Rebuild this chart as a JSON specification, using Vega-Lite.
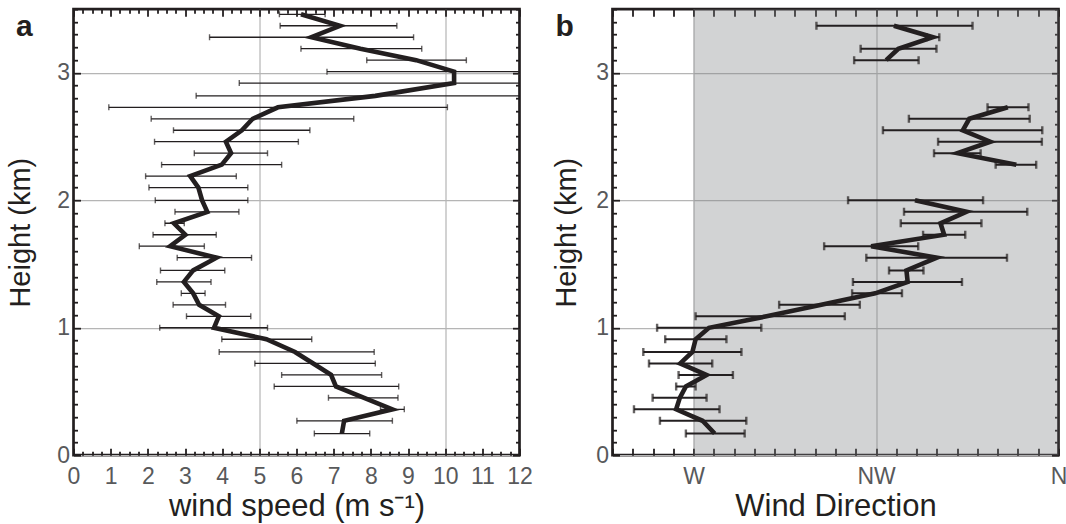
{
  "$schema": "https://vega.github.io/schema/vega-lite/v6.json",
  "padding": {"left": 4.5, "top": 3.2, "right": 0, "bottom": 0},
  "autosize": {"type": "pad"},
  "background": "white",
  "spacing": 16,
  "config": {
    "font": "Liberation Sans",
    "view": {"stroke": "#231f20", "strokeWidth": 2.7},
    "axis": {
      "domain": false,
      "labelFont": "Liberation Sans",
      "titleFont": "Liberation Sans",
      "labelFontSize": 23,
      "labelColor": "#58595b",
      "titleFontSize": 29,
      "titleFontWeight": "normal",
      "titleColor": "#231f20",
      "tickColor": "#231f20",
      "tickWidth": 1.8,
      "gridColor": "#b5b5b5",
      "gridWidth": 1.2,
      "labelFlush": false,
      "labelOverlap": false,
      "labelBound": false
    }
  },
  "datasets": {
    "speed": [
      {"h": 0.17, "v": 7.22, "lo": 6.48, "hi": 7.97},
      {"h": 0.27, "v": 7.28, "lo": 6.01, "hi": 8.58},
      {"h": 0.36, "v": 8.58, "lo": 8.26, "hi": 8.90},
      {"h": 0.45, "v": 7.82, "lo": 6.86, "hi": 8.73},
      {"h": 0.54, "v": 7.06, "lo": 5.40, "hi": 8.75},
      {"h": 0.63, "v": 6.93, "lo": 5.60, "hi": 8.29},
      {"h": 0.72, "v": 6.45, "lo": 4.88, "hi": 8.12},
      {"h": 0.81, "v": 5.96, "lo": 3.92, "hi": 8.09},
      {"h": 0.91, "v": 5.19, "lo": 3.99, "hi": 6.41},
      {"h": 1.00, "v": 3.78, "lo": 2.32, "hi": 5.22},
      {"h": 1.09, "v": 3.91, "lo": 3.04, "hi": 4.77},
      {"h": 1.18, "v": 3.38, "lo": 2.68, "hi": 4.09},
      {"h": 1.27, "v": 3.22, "lo": 2.90, "hi": 3.54},
      {"h": 1.36, "v": 2.97, "lo": 2.24, "hi": 3.70},
      {"h": 1.45, "v": 3.22, "lo": 2.34, "hi": 4.07},
      {"h": 1.55, "v": 3.85, "lo": 2.79, "hi": 4.79},
      {"h": 1.64, "v": 2.60, "lo": 1.77, "hi": 3.52},
      {"h": 1.73, "v": 3.01, "lo": 2.14, "hi": 3.84},
      {"h": 1.82, "v": 2.70, "lo": 2.46, "hi": 2.98},
      {"h": 1.91, "v": 3.60, "lo": 2.73, "hi": 4.45},
      {"h": 2.00, "v": 3.46, "lo": 2.20, "hi": 4.69},
      {"h": 2.10, "v": 3.36, "lo": 2.03, "hi": 4.69},
      {"h": 2.19, "v": 3.14, "lo": 1.94, "hi": 4.38},
      {"h": 2.28, "v": 3.99, "lo": 2.37, "hi": 5.60},
      {"h": 2.37, "v": 4.24, "lo": 3.25, "hi": 5.22},
      {"h": 2.46, "v": 4.10, "lo": 2.18, "hi": 6.05},
      {"h": 2.55, "v": 4.53, "lo": 2.69, "hi": 6.36},
      {"h": 2.64, "v": 4.82, "lo": 2.09, "hi": 7.54},
      {"h": 2.73, "v": 5.50, "lo": 0.95, "hi": 10.06},
      {"h": 2.82, "v": 8.12, "lo": 3.30, "hi": 12.95},
      {"h": 2.92, "v": 10.24, "lo": 4.46, "hi": 16.0},
      {"h": 3.01, "v": 10.24, "lo": 6.82, "hi": 13.66},
      {"h": 3.10, "v": 9.22, "lo": 7.89, "hi": 10.57},
      {"h": 3.19, "v": 7.72, "lo": 6.12, "hi": 9.37},
      {"h": 3.28, "v": 6.40, "lo": 3.66, "hi": 9.15},
      {"h": 3.37, "v": 7.17, "lo": 5.56, "hi": 8.70},
      {"h": 3.46, "v": 6.12, "lo": 5.54, "hi": 6.77}
    ],
    "direction": [
      {"seg": 1, "h": 0.17, "d": 275.2, "lo": 268.1, "hi": 282.6},
      {"seg": 1, "h": 0.27, "d": 272.2, "lo": 261.7, "hi": 283.0},
      {"seg": 1, "h": 0.36, "d": 265.7, "lo": 255.3, "hi": 276.4},
      {"seg": 1, "h": 0.45, "d": 266.6, "lo": 259.9, "hi": 273.2},
      {"seg": 1, "h": 0.54, "d": 268.1, "lo": 265.7, "hi": 270.5},
      {"seg": 1, "h": 0.63, "d": 273.2, "lo": 266.3, "hi": 279.7},
      {"seg": 1, "h": 0.72, "d": 266.7, "lo": 259.0, "hi": 274.6},
      {"seg": 1, "h": 0.81, "d": 269.7, "lo": 257.6, "hi": 281.8},
      {"seg": 1, "h": 0.91, "d": 270.5, "lo": 263.0, "hi": 278.1},
      {"seg": 1, "h": 1.00, "d": 273.8, "lo": 261.0, "hi": 286.7},
      {"seg": 1, "h": 1.09, "d": 288.0, "lo": 270.5, "hi": 307.3},
      {"seg": 1, "h": 1.18, "d": 301.5, "lo": 291.1, "hi": 311.0},
      {"seg": 1, "h": 1.27, "d": 314.8, "lo": 309.1, "hi": 321.4},
      {"seg": 1, "h": 1.36, "d": 322.8, "lo": 309.3, "hi": 336.2},
      {"seg": 1, "h": 1.45, "d": 322.5, "lo": 318.2, "hi": 326.7},
      {"seg": 1, "h": 1.55, "d": 330.0, "lo": 312.6, "hi": 347.3},
      {"seg": 1, "h": 1.64, "d": 313.8, "lo": 302.2, "hi": 325.4},
      {"seg": 1, "h": 1.73, "d": 331.8, "lo": 326.6, "hi": 337.0},
      {"seg": 1, "h": 1.82, "d": 330.9, "lo": 321.1, "hi": 341.0},
      {"seg": 1, "h": 1.91, "d": 337.3, "lo": 321.9, "hi": 352.3},
      {"seg": 1, "h": 2.00, "d": 324.6, "lo": 308.1, "hi": 341.4},
      {"seg": 2, "h": 2.28, "d": 349.6, "lo": 344.5, "hi": 354.5},
      {"seg": 2, "h": 2.37, "d": 335.1, "lo": 329.3, "hi": 340.8},
      {"seg": 2, "h": 2.46, "d": 343.2, "lo": 330.3, "hi": 355.9},
      {"seg": 2, "h": 2.55, "d": 336.4, "lo": 316.7, "hi": 356.0},
      {"seg": 2, "h": 2.64, "d": 338.0, "lo": 323.1, "hi": 352.9},
      {"seg": 2, "h": 2.73, "d": 347.5, "lo": 342.5, "hi": 352.6},
      {"seg": 3, "h": 3.10, "d": 317.5, "lo": 309.6, "hi": 325.5},
      {"seg": 3, "h": 3.19, "d": 320.5, "lo": 311.2, "hi": 329.9},
      {"seg": 3, "h": 3.28, "d": 329.0, "lo": 327.5, "hi": 330.6},
      {"seg": 3, "h": 3.37, "d": 319.4, "lo": 300.3, "hi": 338.8}
    ]
  },
  "hconcat": [
    {
      "width": 446,
      "height": 446,
      "data": {"name": "speed"},
      "resolve": {"axis": {"x": "independent", "y": "independent"}},
      "layer": [
        {
          "mark": {"type": "rule", "clip": true, "strokeWidth": 1.3, "color": "#231f20"},
          "encoding": {
            "x": {"field": "lo", "type": "quantitative", "scale": {"domain": [0, 12], "nice": false, "zero": false},
              "axis": {"orient": "bottom",
                "values": [0,0.25,0.5,0.75,1,1.25,1.5,1.75,2,2.25,2.5,2.75,3,3.25,3.5,3.75,4,4.25,4.5,4.75,5,5.25,5.5,5.75,6,6.25,6.5,6.75,7,7.25,7.5,7.75,8,8.25,8.5,8.75,9,9.25,9.5,9.75,10,10.25,10.5,10.75,11,11.25,11.5,11.75,12],
                "tickSize": {"condition": {"test": "datum.value % 1 === 0", "value": -7}, "value": -4},
                "labelExpr": "datum.value % 1 === 0 ? format(datum.value, 'd') : ''",
                "labelFontSize": {"condition": {"test": "datum.value % 1 === 0", "value": 23}, "value": 1},
                "labelPadding": 17,
                "grid": true,
                "gridOpacity": {"condition": {"test": "datum.value === 5 || datum.value === 10", "value": 1}, "value": 0},
                "title": "wind speed (m s⁻¹)",
                "titleFontSize": 31,
                "titlePadding": 3}},
            "x2": {"field": "hi"},
            "y": {"field": "h", "type": "quantitative", "scale": {"domain": [0, 3.5], "nice": false, "zero": false},
              "axis": {"orient": "left",
                "values": [0,0.1,0.2,0.3,0.4,0.5,0.6,0.7,0.8,0.9,1,1.1,1.2,1.3,1.4,1.5,1.6,1.7,1.8,1.9,2,2.1,2.2,2.3,2.4,2.5,2.6,2.7,2.8,2.9,3,3.1,3.2,3.3,3.4,3.5],
                "tickSize": {"condition": {"test": "datum.value % 1 === 0", "value": -7}, "value": -4},
                "labelExpr": "datum.value % 1 === 0 ? format(datum.value, 'd') : ''",
                "labelFontSize": {"condition": {"test": "datum.value % 1 === 0", "value": 23}, "value": 1},
                "labelPadding": 11,
                "grid": true,
                "gridOpacity": {"condition": {"test": "datum.value % 1 === 0", "value": 1}, "value": 0},
                "title": "Height (km)",
                "titlePadding": 21}}
          }
        },
        {
          "mark": {"type": "tick", "orient": "vertical", "clip": true, "size": 6, "thickness": 1.4, "color": "#231f20"},
          "encoding": {
            "x": {"field": "lo", "type": "quantitative", "scale": {"domain": [0, 12], "nice": false, "zero": false},
              "axis": {"orient": "top",
                "values": [0,0.25,0.5,0.75,1,1.25,1.5,1.75,2,2.25,2.5,2.75,3,3.25,3.5,3.75,4,4.25,4.5,4.75,5,5.25,5.5,5.75,6,6.25,6.5,6.75,7,7.25,7.5,7.75,8,8.25,8.5,8.75,9,9.25,9.5,9.75,10,10.25,10.5,10.75,11,11.25,11.5,11.75,12],
                "tickSize": {"condition": {"test": "datum.value % 1 === 0", "value": -7}, "value": -4},
                "labels": false, "grid": false, "title": null}},
            "y": {"field": "h", "type": "quantitative", "scale": {"domain": [0, 3.5], "nice": false, "zero": false},
              "axis": {"orient": "right",
                "values": [0,0.1,0.2,0.3,0.4,0.5,0.6,0.7,0.8,0.9,1,1.1,1.2,1.3,1.4,1.5,1.6,1.7,1.8,1.9,2,2.1,2.2,2.3,2.4,2.5,2.6,2.7,2.8,2.9,3,3.1,3.2,3.3,3.4,3.5],
                "tickSize": {"condition": {"test": "datum.value % 1 === 0", "value": -7}, "value": -4},
                "labels": false, "grid": false, "title": null}}
          }
        },
        {
          "mark": {"type": "tick", "orient": "vertical", "clip": true, "size": 6, "thickness": 1.4, "color": "#231f20"},
          "encoding": {
            "x": {"field": "hi", "type": "quantitative", "scale": {"domain": [0, 12], "nice": false, "zero": false}, "axis": null},
            "y": {"field": "h", "type": "quantitative", "scale": {"domain": [0, 3.5], "nice": false, "zero": false}, "axis": null}
          }
        },
        {
          "mark": {"type": "line", "strokeWidth": 4.6, "color": "#231f20"},
          "encoding": {
            "x": {"field": "v", "type": "quantitative", "scale": {"domain": [0, 12], "nice": false, "zero": false}, "axis": null},
            "y": {"field": "h", "type": "quantitative", "scale": {"domain": [0, 3.5], "nice": false, "zero": false}, "axis": null},
            "order": {"field": "h", "type": "quantitative"}
          }
        },
        {
          "data": {"values": [{"panel": "a"}]},
          "mark": {"type": "text", "clip": false, "font": "Liberation Sans", "fontSize": 30, "fontWeight": "bold", "color": "#231f20", "align": "center", "baseline": "alphabetic"},
          "encoding": {
            "x": {"datum": -1.32, "type": "quantitative", "scale": {"domain": [0, 12], "nice": false, "zero": false}, "axis": null},
            "y": {"datum": 3.29, "type": "quantitative", "scale": {"domain": [0, 3.5], "nice": false, "zero": false}, "axis": null},
            "text": {"field": "panel"}
          }
        }
      ]
    },
    {
      "width": 446,
      "height": 446,
      "data": {"name": "direction"},
      "resolve": {"axis": {"x": "independent", "y": "independent"}},
      "layer": [
        {
          "data": {"values": [{"band": "W to N"}]},
          "mark": {"type": "rect", "fill": "#7b7d80", "fillOpacity": 0.342},
          "encoding": {
            "x": {"datum": 270, "type": "quantitative", "scale": {"domain": [250, 360], "nice": false, "zero": false}, "axis": null},
            "x2": {"datum": 360},
            "y": {"datum": 0, "type": "quantitative", "scale": {"domain": [0, 3.5], "nice": false, "zero": false}, "axis": null},
            "y2": {"datum": 3.5}
          }
        },
        {
          "mark": {"type": "rule", "clip": true, "strokeWidth": 2, "color": "#231f20"},
          "encoding": {
            "x": {"field": "lo", "type": "quantitative", "scale": {"domain": [250, 360], "nice": false, "zero": false},
              "axis": {"orient": "bottom",
                "values": [250,255,260,265,270,275,280,285,290,295,300,305,310,315,320,325,330,335,340,345,350,355,360],
                "tickSize": -7,
                "labelExpr": "datum.value === 270 ? 'W' : datum.value === 315 ? 'NW' : datum.value === 360 ? 'N' : ''",
                "labelFontSize": {"condition": {"test": "datum.value === 270 || datum.value === 315 || datum.value === 360", "value": 23}, "value": 1},
                "labelPadding": 17,
                "grid": true,
                "gridOpacity": {"condition": {"test": "datum.value === 270 || datum.value === 315", "value": 1}, "value": 0},
                "title": "Wind Direction",
                "titleFontSize": 31,
                "titlePadding": 3}},
            "x2": {"field": "hi"},
            "y": {"field": "h", "type": "quantitative", "scale": {"domain": [0, 3.5], "nice": false, "zero": false},
              "axis": {"orient": "left",
                "values": [0,0.1,0.2,0.3,0.4,0.5,0.6,0.7,0.8,0.9,1,1.1,1.2,1.3,1.4,1.5,1.6,1.7,1.8,1.9,2,2.1,2.2,2.3,2.4,2.5,2.6,2.7,2.8,2.9,3,3.1,3.2,3.3,3.4,3.5],
                "tickSize": {"condition": {"test": "datum.value % 1 === 0", "value": -7}, "value": -4},
                "labelExpr": "datum.value % 1 === 0 ? format(datum.value, 'd') : ''",
                "labelFontSize": {"condition": {"test": "datum.value % 1 === 0", "value": 23}, "value": 1},
                "labelPadding": 11,
                "grid": true,
                "gridOpacity": {"condition": {"test": "datum.value % 1 === 0", "value": 1}, "value": 0},
                "title": "Height (km)",
                "titlePadding": 14}}
          }
        },
        {
          "mark": {"type": "tick", "orient": "vertical", "clip": true, "size": 8, "thickness": 2.4, "color": "#231f20"},
          "encoding": {
            "x": {"field": "lo", "type": "quantitative", "scale": {"domain": [250, 360], "nice": false, "zero": false},
              "axis": {"orient": "top",
                "values": [250,255,260,265,270,275,280,285,290,295,300,305,310,315,320,325,330,335,340,345,350,355,360],
                "tickSize": -7,
                "labels": false, "grid": false, "title": null}},
            "y": {"field": "h", "type": "quantitative", "scale": {"domain": [0, 3.5], "nice": false, "zero": false},
              "axis": {"orient": "right",
                "values": [0,0.1,0.2,0.3,0.4,0.5,0.6,0.7,0.8,0.9,1,1.1,1.2,1.3,1.4,1.5,1.6,1.7,1.8,1.9,2,2.1,2.2,2.3,2.4,2.5,2.6,2.7,2.8,2.9,3,3.1,3.2,3.3,3.4,3.5],
                "tickSize": {"condition": {"test": "datum.value % 1 === 0", "value": -7}, "value": -4},
                "labels": false, "grid": false, "title": null}}
          }
        },
        {
          "mark": {"type": "tick", "orient": "vertical", "clip": true, "size": 8, "thickness": 2.4, "color": "#231f20"},
          "encoding": {
            "x": {"field": "hi", "type": "quantitative", "scale": {"domain": [250, 360], "nice": false, "zero": false}, "axis": null},
            "y": {"field": "h", "type": "quantitative", "scale": {"domain": [0, 3.5], "nice": false, "zero": false}, "axis": null}
          }
        },
        {
          "mark": {"type": "line", "strokeWidth": 4.6, "color": "#231f20"},
          "encoding": {
            "x": {"field": "d", "type": "quantitative", "scale": {"domain": [250, 360], "nice": false, "zero": false}, "axis": null},
            "y": {"field": "h", "type": "quantitative", "scale": {"domain": [0, 3.5], "nice": false, "zero": false}, "axis": null},
            "detail": {"field": "seg", "type": "nominal"},
            "order": {"field": "h", "type": "quantitative"}
          }
        },
        {
          "data": {"values": [{"panel": "b"}]},
          "mark": {"type": "text", "clip": false, "font": "Liberation Sans", "fontSize": 30, "fontWeight": "bold", "color": "#231f20", "align": "center", "baseline": "alphabetic"},
          "encoding": {
            "x": {"datum": 238.2, "type": "quantitative", "scale": {"domain": [250, 360], "nice": false, "zero": false}, "axis": null},
            "y": {"datum": 3.29, "type": "quantitative", "scale": {"domain": [0, 3.5], "nice": false, "zero": false}, "axis": null},
            "text": {"field": "panel"}
          }
        }
      ]
    }
  ]
}
